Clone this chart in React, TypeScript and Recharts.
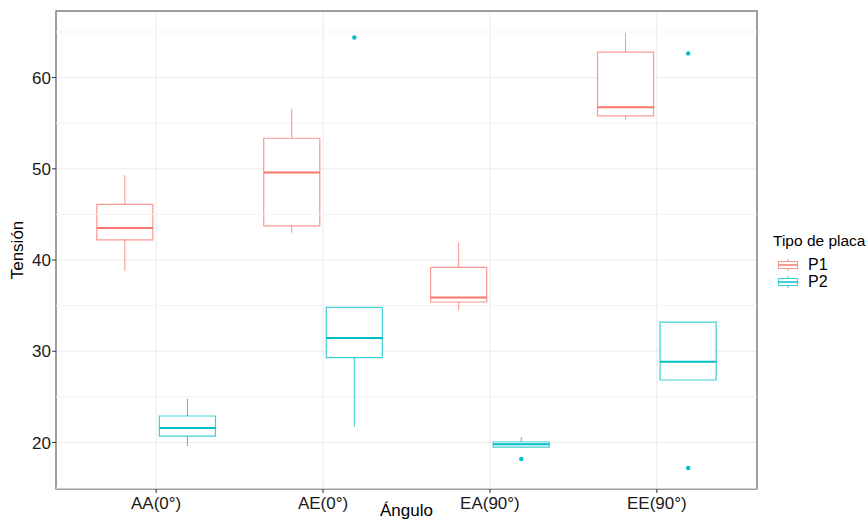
import {
  ComposedChart,
  XAxis,
  YAxis,
  CartesianGrid,
  ReferenceArea,
  ReferenceLine,
  Scatter,
} from 'recharts';

const categories = ['AA(0°)', 'AE(0°)', 'EA(90°)', 'EE(90°)'];
const plateTypes = ['P1', 'P2'];
const plateColors = ['#F8766D', '#00BFC4'];

// box stats per category: lower whisker, Q1, median, Q3, upper whisker
const p1Low = [38.8, 43.0, 34.5, 55.4];
const p1Q1 = [42.2, 43.75, 35.4, 55.8];
const p1Median = [43.5, 49.6, 35.9, 56.75];
const p1Q3 = [46.1, 53.35, 39.2, 62.8];
const p1High = [49.3, 56.6, 41.95, 64.9];

const p2Low = [19.6, 21.7, 19.5, 26.85];
const p2Q1 = [20.7, 29.3, 19.5, 26.85];
const p2Median = [21.6, 31.45, 19.8, 28.85];
const p2Q3 = [22.9, 34.8, 20.05, 33.2];
const p2High = [24.8, 34.8, 20.6, 33.2];

// outliers: category index + value
const p1OutlierCategory: number[] = [];
const p1OutlierValue: number[] = [];
const p2OutlierCategory = [1, 2, 3, 3];
const p2OutlierValue = [64.4, 18.2, 62.65, 17.2];

const yTicks = [20, 30, 40, 50, 60];
const yMinor = [15, 25, 35, 45, 55, 65];
const yDomain = [14.9, 67.3];
const xDomain = [0.4, 4.6];

const FONT = '"Liberation Sans", Arial, sans-serif';
const DODGE = 0.1875;
const HALF = 0.168;

const groups = [
  { name: plateTypes[0], color: plateColors[0], low: p1Low, q1: p1Q1, med: p1Median, q3: p1Q3, high: p1High, oc: p1OutlierCategory, ov: p1OutlierValue },
  { name: plateTypes[1], color: plateColors[1], low: p2Low, q1: p2Q1, med: p2Median, q3: p2Q3, high: p2High, oc: p2OutlierCategory, ov: p2OutlierValue },
];

const offsetOf = (gi: number) => (gi === 0 ? -DODGE : DODGE);

function renderBoxes() {
  const out: any[] = [];
  groups.forEach((g, gi) => {
    categories.forEach((_, ci) => {
      const xc = ci + 1 + offsetOf(gi);
      if (g.high[ci] > g.q3[ci]) {
        out.push(
          <ReferenceLine key={`wu-${gi}-${ci}`} segment={[{ x: xc, y: g.q3[ci] }, { x: xc, y: g.high[ci] }]}
            stroke={g.color} strokeOpacity={0.8} strokeWidth={1} ifOverflow="visible" />
        );
      }
      if (g.low[ci] < g.q1[ci]) {
        out.push(
          <ReferenceLine key={`wl-${gi}-${ci}`} segment={[{ x: xc, y: g.low[ci] }, { x: xc, y: g.q1[ci] }]}
            stroke={g.color} strokeOpacity={0.8} strokeWidth={1} ifOverflow="visible" />
        );
      }
      out.push(
        <ReferenceArea key={`b-${gi}-${ci}`} x1={xc - HALF} x2={xc + HALF} y1={g.q1[ci]} y2={g.q3[ci]}
          fill="#ffffff" fillOpacity={1} stroke={g.color} strokeOpacity={0.75} strokeWidth={1.2} ifOverflow="visible" />
      );
      out.push(
        <ReferenceLine key={`m-${gi}-${ci}`} segment={[{ x: xc - HALF, y: g.med[ci] }, { x: xc + HALF, y: g.med[ci] }]}
          stroke={g.color} strokeWidth={2} ifOverflow="visible" />
      );
    });
  });
  return out;
}

function outlierData(gi: number) {
  const g = groups[gi];
  return g.oc.map((c, i) => ({ x: c + 1 + offsetOf(gi), y: g.ov[i] }));
}

function LegendBox() {
  return (
    <div style={{ position: 'absolute', left: 773, top: 232, fontFamily: FONT, color: '#000' }}>
      <div style={{ fontSize: 15.5, lineHeight: '18px', whiteSpace: 'nowrap' }}>Tipo de placa</div>
      <div style={{ height: 6 }} />
      {groups.map((g) => (
        <div key={g.name} style={{ display: 'flex', alignItems: 'center', height: 17 }}>
          <svg width={30} height={16}>
            <line x1={15} x2={15} y1={2} y2={4.5} stroke={g.color} strokeOpacity={0.8} />
            <line x1={15} x2={15} y1={11.5} y2={14} stroke={g.color} strokeOpacity={0.8} />
            <rect x={5.5} y={4.5} width={19} height={7} fill="#fff" stroke={g.color} strokeOpacity={0.75} />
            <line x1={5.5} x2={24.5} y1={8} y2={8} stroke={g.color} strokeWidth={1.5} />
          </svg>
          <span style={{ fontSize: 16, lineHeight: '16px', marginLeft: 5 }}>{g.name}</span>
        </div>
      ))}
    </div>
  );
}

export default function App() {
  return (
    <div style={{ position: 'absolute', left: 0, top: 0, width: 868, height: 521, background: '#fff', fontFamily: FONT }}>
      <ComposedChart width={868} height={521} margin={{ top: 11, right: 111, bottom: 0, left: 0 }}>
        <CartesianGrid stroke="#EBEBEB" strokeWidth={1} verticalValues={[1, 2, 3, 4]} horizontalValues={yTicks} />
        {yMinor.map((v) => (
          <ReferenceLine key={`minor-${v}`} y={v} stroke="#F3F3F3" strokeWidth={1} />
        ))}
        <XAxis
          type="number"
          dataKey="x"
          domain={xDomain}
          ticks={[1, 2, 3, 4]}
          tickFormatter={(v: number) => categories[v - 1]}
          allowDataOverflow
          height={32}
          axisLine={false}
          tickSize={4}
          tickMargin={4}
          tickLine={{ stroke: '#333333' }}
          tick={{ fill: '#1a1a1a', fontSize: 17, fontFamily: FONT }}
          label={({ viewBox }: any) => (
            <text x={viewBox.x + viewBox.width / 2} y={516} textAnchor="middle" fontSize={17} fontFamily={FONT} fill="#000">
              Ángulo
            </text>
          )}
        />
        <YAxis
          type="number"
          dataKey="y"
          domain={yDomain}
          ticks={yTicks}
          allowDataOverflow
          width={56}
          axisLine={false}
          tickSize={4}
          tickMargin={1}
          tickLine={{ stroke: '#333333' }}
          tick={{ fill: '#1a1a1a', fontSize: 17, fontFamily: FONT }}
          label={({ viewBox }: any) => {
            const cx = 17;
            const cy = viewBox.y + viewBox.height / 2;
            return (
              <text x={cx} y={cy} transform={`rotate(-90 ${cx} ${cy})`} textAnchor="middle" dominantBaseline="central"
                fontSize={17} fontFamily={FONT} fill="#000">
                Tensión
              </text>
            );
          }}
        />
        {renderBoxes()}
        {groups.map((g, gi) => (
          <Scatter key={g.name} name={g.name} data={outlierData(gi)} fill={g.color} isAnimationActive={false}
            shape={(p: any) => <circle cx={p.cx} cy={p.cy} r={2.2} fill={g.color} />} />
        ))}
        <ReferenceArea x1={xDomain[0]} x2={xDomain[1]} y1={yDomain[0]} y2={yDomain[1]} fill="none"
          stroke="#7F7F7F" strokeWidth={1.5} ifOverflow="visible" />
      </ComposedChart>
      <LegendBox />
    </div>
  );
}
